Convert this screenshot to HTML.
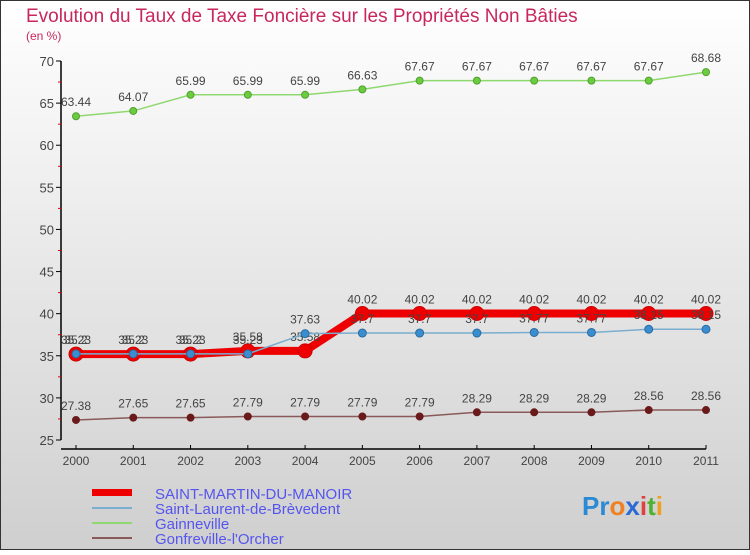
<!DOCTYPE html>
<html><head><meta charset="utf-8"><style>
body{margin:0}
#c{width:750px;height:550px;position:relative;font-family:"Liberation Sans",sans-serif}
</style></head><body>
<div id="c">
<svg id="s" width="750" height="550" xmlns="http://www.w3.org/2000/svg">
<defs><linearGradient id="bg" x1="0" y1="0" x2="0" y2="1"><stop offset="0" stop-color="#ffffff"/><stop offset="1" stop-color="#cfcfcf"/></linearGradient></defs>
<rect x="0.5" y="0.5" width="749" height="549" fill="url(#bg)" stroke="#333"/>
<text x="26" y="22" font-size="19" fill="#c8275e">Evolution du Taux de Taxe Foncière sur les Propriétés Non Bâties</text>
<text x="26" y="40" font-size="12" fill="#c8275e">(en %)</text>
<g id="axes"></g><g id="series"></g>
<g>
<rect x="92" y="489" width="40" height="7" fill="#e00"/>
<text x="155" y="499" font-size="15" fill="#5555ee">SAINT-MARTIN-DU-MANOIR</text>
<line x1="92" y1="508" x2="132" y2="508" stroke="#7aaed0" stroke-width="2"/>
<text x="155" y="514" font-size="15" fill="#5555ee">Saint-Laurent-de-Brèvedent</text>
<line x1="92" y1="523" x2="132" y2="523" stroke="#8fd870" stroke-width="2"/>
<text x="155" y="529" font-size="15" fill="#5555ee">Gainneville</text>
<line x1="92" y1="538" x2="132" y2="538" stroke="#8a5a5a" stroke-width="2"/>
<text x="155" y="544" font-size="15" fill="#5555ee">Gonfreville-l'Orcher</text>
</g>
<text x="582" y="515" font-size="26" font-weight="bold"><tspan fill="#2a8ad4">Pr</tspan><tspan fill="#f08020">o</tspan><tspan fill="#2a6ad4">x</tspan><tspan fill="#e04040">i</tspan><tspan fill="#50b030">t</tspan><tspan fill="#f0a020">i</tspan></text>
</svg></div>
<script>
const years=[2000,2001,2002,2003,2004,2005,2006,2007,2008,2009,2010,2011];
const yTicks=[25,30,35,40,45,50,55,60,65,70];
const smValues=[35.2,35.2,35.2,35.58,35.58,40.02,40.02,40.02,40.02,40.02,40.02,40.02];
const slValues=[35.23,35.23,35.23,35.23,37.63,37.7,37.7,37.7,37.77,37.77,38.15,38.15];
const gaValues=[63.44,64.07,65.99,65.99,65.99,66.63,67.67,67.67,67.67,67.67,67.67,68.68];
const goValues=[27.38,27.65,27.65,27.79,27.79,27.79,27.79,28.29,28.29,28.29,28.56,28.56];
const NS="http://www.w3.org/2000/svg";
const xs=i=>76+i*(706-76)/(years.length-1);
const ys=v=>440-(v-25)*(440-61)/45;
function mk(t,a,p){const e=document.createElementNS(NS,t);for(const k in a)e.setAttribute(k,a[k]);p.appendChild(e);return e;}
const ax=document.getElementById('axes');
let yl=mk('line',{x1:61,y1:61,x2:61,y2:440,stroke:'#000','stroke-width':1.5},ax);


let xl=mk('line',{x1:61,y1:449,x2:706,y2:449,stroke:'#000','stroke-width':1.5},ax);


yTicks.forEach(v=>{mk('line',{x1:56,y1:ys(v),x2:61,y2:ys(v),stroke:'#000'},ax);
 if(v<70)mk('line',{x1:58,y1:ys(v+2.5),x2:61,y2:ys(v+2.5),stroke:'#e00'},ax);
 const t=mk('text',{x:54,y:ys(v)+5,'font-size':13,fill:'#444','text-anchor':'end'},ax);t.textContent=v;
 
 });
years.forEach((y,i)=>{mk('line',{x1:xs(i),y1:445,x2:xs(i),y2:449,stroke:'#000'},ax);
 const t=mk('text',{x:xs(i),y:465,'font-size':12,fill:'#444','text-anchor':'middle'},ax);t.textContent=y;
 
 });
const sg=document.getElementById('series');
function series(vals,name,col,w,r,dot,dotStroke){
 const g=mk('g',{},sg);
 
 
 mk('polyline',{points:vals.map((v,i)=>xs(i)+','+ys(v)).join(' '),fill:'none',stroke:col,'stroke-width':w},g);
 vals.forEach((v,i)=>{const c=mk('circle',{cx:xs(i),cy:ys(v),r:r,fill:dot,stroke:dotStroke,'stroke-width':1},g);
  
  
  const t=mk('text',{x:xs(i),y:ys(v)-10,'font-size':12,fill:'#444','text-anchor':'middle'},g);t.textContent=v;
  
  });
}
series(goValues,'gonfreville-series','#8a5a5a',1.5,3.5,'#6a1a1a','#6a1a1a');
series(gaValues,'gainneville-series','#8fd870',1.5,3.5,'#6ccc40','#50a030');
series(smValues,'saint-martin-series','#ee0000',8,7,'#ee0000','#c00');
series(slValues,'saint-laurent-series','#7aaed0',1.5,4,'#3a8ed0','#2a6aa0');
</script>
</body></html>
